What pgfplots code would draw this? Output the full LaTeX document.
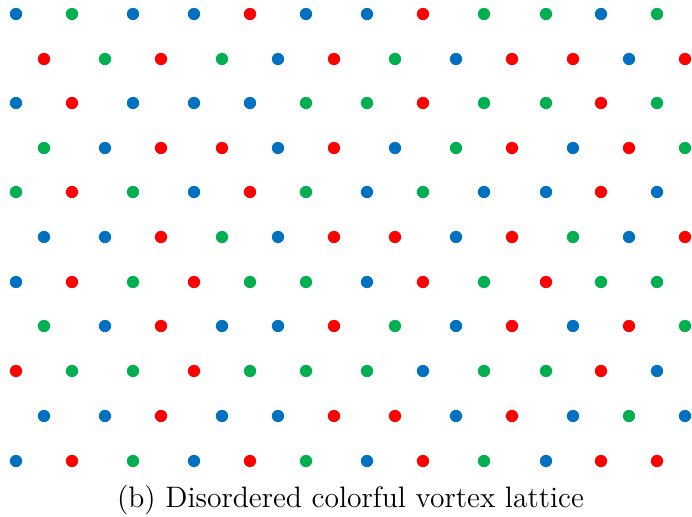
\documentclass[border=0pt]{standalone}
\usepackage{pgfplots}
\pgfplotsset{compat=1.18}
\definecolor{vblue}{HTML}{0070C0}
\definecolor{vgreen}{HTML}{00B050}
\definecolor{vred}{HTML}{FF0000}
\begin{document}
\begin{tikzpicture}
\begin{axis}[
  scale only axis, width=346pt, height=258pt,
  xmin=0, xmax=692, ymin=0, ymax=516, y dir=reverse,
  hide axis, clip=false,
]
\addplot[scatter, only marks, mark=*, mark size=2.85pt,
  scatter src=explicit symbolic,
  scatter/classes={B={vblue}, G={vgreen}, R={vred}}]
  table[x=x, y=y, meta=c] {
x y c
16 14 B
72 14 G
133 14 B
194 14 B
250 14 R
306 14 B
367 14 B
423 14 R
484 14 G
546 14 G
601 14 B
657 14 G
44 59 R
105 59 G
161 59 R
222 59 G
278 59 B
334 59 R
395 59 G
456 59 B
512 59 R
573 59 R
629 59 B
685 59 R
16 103 B
72 103 R
133 103 B
194 103 B
250 103 B
306 103 G
367 103 G
423 103 R
484 103 G
546 103 G
601 103 R
657 103 G
44 148 G
105 148 B
161 148 R
222 148 R
278 148 B
334 148 R
395 148 B
456 148 G
512 148 R
573 148 B
629 148 R
685 148 G
16 192 G
72 192 R
133 192 G
194 192 B
250 192 R
306 192 G
367 192 B
423 192 G
484 192 B
546 192 B
601 192 R
657 192 B
44 237 B
105 237 B
161 237 R
222 237 G
278 237 B
334 237 R
395 237 R
456 237 B
512 237 R
573 237 G
629 237 B
685 237 R
16 282 B
72 282 R
133 282 G
194 282 R
250 282 G
306 282 G
367 282 B
423 282 R
484 282 G
546 282 R
601 282 G
657 282 G
44 326 G
105 326 B
161 326 R
222 326 B
278 326 B
334 326 R
395 326 G
456 326 B
512 326 R
573 326 B
629 326 R
685 326 G
16 371 R
72 371 G
133 371 G
194 371 R
250 371 G
306 371 G
367 371 G
423 371 B
484 371 G
546 371 G
601 371 R
657 371 B
44 416 B
105 416 B
161 416 R
222 416 B
278 416 B
334 416 R
395 416 R
456 416 B
512 416 R
573 416 B
629 416 G
685 416 B
16 461 B
72 461 R
133 461 G
194 461 B
250 461 R
306 461 G
367 461 B
423 461 R
484 461 G
546 461 B
601 461 R
657 461 R
};
\draw[draw=none] (rel axis cs:0,0) rectangle (rel axis cs:1,1);
\node[anchor=base, inner sep=0pt, font=\fontsize{14.8}{17.5}\selectfont] at (axis cs:350.5,507) {(b) Disordered colorful vortex lattice};
\end{axis}
\end{tikzpicture}
\end{document}
